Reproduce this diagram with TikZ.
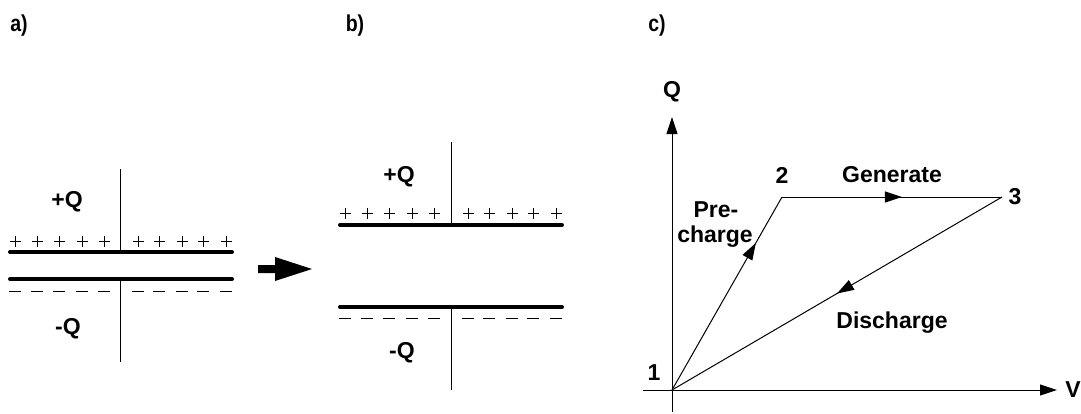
\documentclass[tikz,border=0pt]{standalone}
\usepackage{fontspec}
\setmainfont{Liberation Sans}
\usetikzlibrary{arrows.meta,decorations.markings}
\begin{document}
\begin{tikzpicture}[x=1pt,y=-1pt,
  lbl/.style={font=\fontsize{23}{27}\selectfont\bfseries, inner sep=0pt},
  plbl/.style={font=\fontsize{23}{27}\selectfont\bfseries, inner sep=0pt, xscale=0.85},
  plate/.style={line width=4pt, line cap=round},
  thin/.style={line width=1pt},
  tip/.style={-{Triangle[length=17pt,width=11pt]}},
  midarrow/.style={postaction={decorate},decoration={markings,mark=at position #1 with {\arrow{Triangle[length=17pt,width=11pt]}}}}]
\useasboundingbox (0,0) rectangle (1081,413);
% panel labels
\node[plbl] (la) at (19,26) {a)};
\node[plbl] (lb) at (355,26) {b)};
\node[plbl] (lc) at (657,26) {c)};
% ---- panel a
\coordinate (aT) at (120,169);
\coordinate (aP1) at (120,252);
\coordinate (aP2) at (120,279);
\coordinate (aB) at (120,362);
\draw[thin] (aT) -- (aP1);
\draw[thin] (aP2) -- (aB);
\draw[plate] (10,252) -- (232,252);
\draw[plate] (10,279) -- (232,279);
\foreach \c in {15,37,59,82,104,138,159,182,203,226}{
  \draw[thin] (\c-5.5,241) -- (\c+5.5,241) (\c,235.5) -- (\c,246.5);
  \draw[thin] (\c-6,291) -- (\c+6,291);
}
\node[lbl] (aq1) at (67,202) {+Q};
\node[lbl] (aq2) at (68,329) {-Q};
% block arrow
\fill (258,265) -- (275,265) -- (275,257) -- (312,269) -- (275,281) -- (275,273) -- (258,273) -- cycle;
% ---- panel b
\coordinate (bT) at (451,142);
\coordinate (bP1) at (451,225);
\coordinate (bP2) at (451,307);
\coordinate (bB) at (451,390);
\draw[thin] (bT) -- (bP1);
\draw[thin] (bP2) -- (bB);
\draw[plate] (340,225) -- (562,225);
\draw[plate] (340,307) -- (562,307);
\foreach \c in {345,367,389,412,434,468,489,512,533,556}{
  \draw[thin] (\c-5.5,213) -- (\c+5.5,213) (\c,207.5) -- (\c,218.5);
  \draw[thin] (\c-6,318) -- (\c+6,318);
}
\node[lbl] (bq1) at (399,177) {+Q};
\node[lbl] (bq2) at (402,353) {-Q};
% ---- panel c
\coordinate (p1) at (672,390);
\coordinate (p2) at (782,197);
\coordinate (p3) at (1002,197);
\coordinate (qb) at (672,412);
\coordinate (qt) at (672,117);
\coordinate (vl) at (643,390);
\coordinate (vr) at (1057,390);
\draw[thin,tip] (qb) -- (qt);
\draw[thin,tip] (vl) -- (vr);
\draw[thin,midarrow=0.762] (p1) -- (p2);
\draw[thin,midarrow=0.545] (p2) -- (p3);
\draw[thin,midarrow=0.5] (p3) -- (p1);
\node[lbl] (qlab) at (672,92) {Q};
\node[lbl] (vlab) at (1073,390) {V};
\node[lbl] (n1) at (654,373) {1};
\node[lbl] (n2) at (782,175) {2};
\node[lbl] (n3) at (1015,197) {3};
\node[lbl] (gen) at (892,175) {Generate};
\node[lbl] (pre) at (716,210) {Pre-};
\node[lbl] (chg) at (715,237) {charge};
\node[lbl] (dis) at (892,323) {Discharge};
\end{tikzpicture}
\end{document}
